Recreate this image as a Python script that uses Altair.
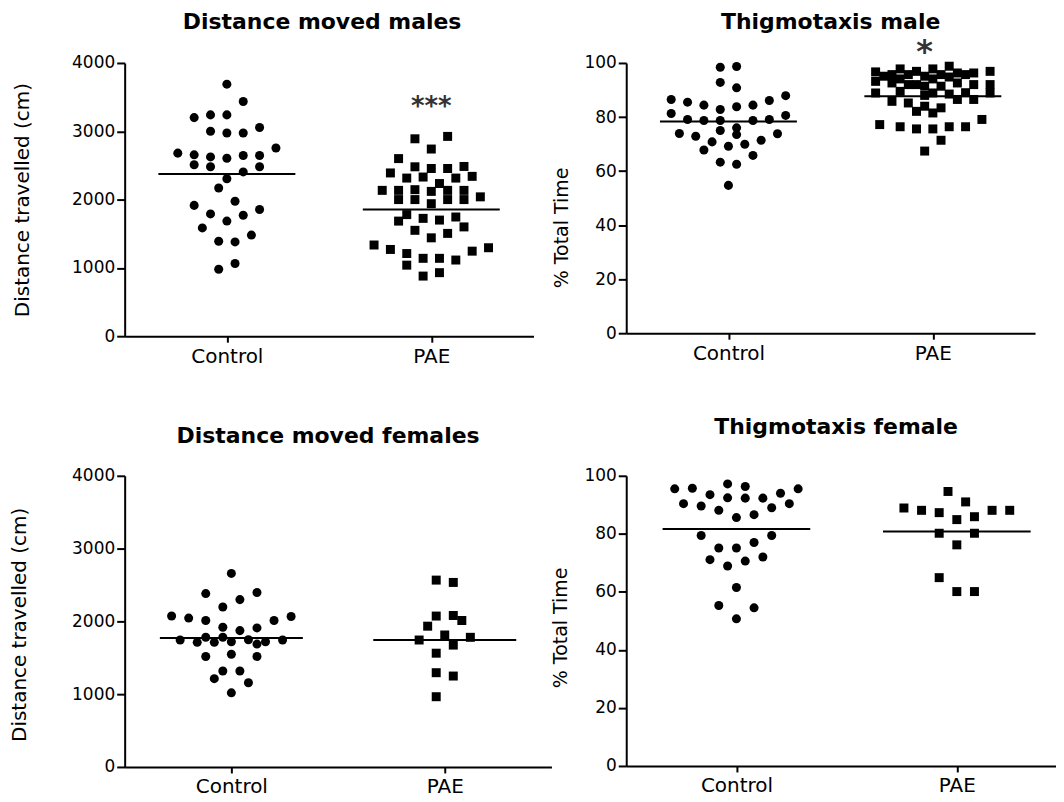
import altair as alt
import pandas as pd

FONT = "DejaVu Sans"
GROUPS = ["Control", "PAE"]

# ---------------- Distance moved males (top-left) ----------------
tl_ctrl_vals = [3690, 3435, 3200, 3240, 3240, 3000, 2975, 2975, 3055, 2680, 2655, 2510,
                2625, 2480, 2605, 2645, 2405, 2645, 2480, 2755, 2305, 2170, 1915, 1975,
                1790, 1855, 1770, 1685, 1585, 1480, 1390, 1380, 980, 1065]
tl_ctrl_slots = [0, 2, -4, -2, 0, -2, 0, 2, 4, -6, -4, -4,
                 -2, -2, 0, 2, 2, 4, 4, 6, 0, -1, -4, 1,
                 -2, 4, 2, 0, -3, 3, -1, 1, -1, 1]
tl_pae_vals = [2890, 2925, 2740, 2600, 2390, 2480, 2455, 2455, 2485, 2315, 2330, 2235,
               2315, 2340, 2135, 2135, 2000, 2145, 2000, 2120, 1940, 2135, 2000, 2135,
               2000, 2040, 1780, 1685, 1725, 1700, 1745, 1550, 1600, 1440, 1505, 1335,
               1270, 1210, 1040, 1140, 1140, 1115, 1245, 1295, 880, 930]
tl_pae_slots = [-2, 2, 0, -4, -5, -2, 0, 2, 4, -3, -1, 1,
                3, 5, -6, -4, -4, -2, -2, 0, 0, 2, 2, 4,
                4, 6, -3, -4, -1, 1, 3, -2, 4, 0, 2, -7,
                -5, -3, -3, -1, 1, 3, 5, 7, -1, 1]
tl_means = [2375, 1854]
tl_ticks = [0, 1000, 2000, 3000, 4000]
tl_marks = ["***"]
tl_mark_grp = [2]
tl_mark_slot = [0]
tl_mark_val = [3435]

# ---------------- Thigmotaxis male (top-right) ----------------
tr_ctrl_vals = [98.4, 98.7, 92.8, 90.8, 86.5, 85.5, 84.4, 82.8, 83.8, 84.4, 86.1, 87.9,
                81.3, 79.1, 78.7, 78.7, 78.7, 79.1, 80.6, 73.9, 72.9, 75.0, 76.0, 73.5,
                70.8, 67.8, 69.2, 69.9, 71.4, 73.8, 65.8, 63.3, 62.5, 54.7]
tr_ctrl_slots = [-1, 1, -1, 1, -7, -5, -3, -1, 1, 3, 5, 7,
                 -7, -5, -3, -1, 3, 5, 7, -6, -4, -1, 1, 1,
                 -2, -3, 0, 2, 4, 6, 3, -1, 1, 0]
tr_pae_vals = [96.7, 93.2, 95.1, 95.7, 92.6, 97.8, 94.1, 95.7, 92.0, 96.9, 92.0, 95.1,
               91.4, 97.8, 94.1, 95.7, 91.4, 98.8, 94.8, 96.3, 92.6, 95.7, 96.3, 92.0,
               96.9, 92.0, 88.9, 88.9, 88.9, 86.5, 89.5, 88.0, 88.5, 89.0, 85.8, 85.2,
               82.1, 84.0, 81.5, 83.4, 86.5, 77.2, 76.4, 75.6, 75.6, 76.4, 76.4, 79.1,
               71.4, 67.4]
tr_pae_slots = [-7, -7, -6, -5, -5, -4, -4, -3, -3, -2, -2, -1,
                -1, 0, 0, 1, 1, 2, 2, 3, 3, 4, 5, 5,
                7, 7, -7, 0, 7, 3, -4, -1, 2, 4, -5, -3,
                -2, -1, 0, 1, 5, -6.5, -4, -2, 0, 2, 4, 6,
                1, -1]
tr_means = [78.3, 87.7]
tr_ticks = [0, 20, 40, 60, 80, 100]
tr_marks = ["*"]
tr_mark_grp = [2]
tr_mark_slot = [-1]
tr_mark_val = [106]

# ---------------- Distance moved females (bottom-left) ----------------
bl_ctrl_vals = [2659, 2382, 2299, 2396, 2198, 2073, 2045, 2012, 2012, 2067, 1920, 1873,
                1910, 1744, 1712, 1781, 1712, 1781, 1720, 1748, 1688, 1720, 1744, 1518,
                1549, 1518, 1213, 1318, 1318, 1157, 1018]
bl_ctrl_slots = [0, -3, 1, 3, -1, -7, -5, -3, 5, 7, -1, 1,
                 3, -6, -4, -3, -2, -1, 0, 2, 3, 4, 6, -3,
                 0, 3, -2, -1, 1, 2, 0]
bl_pae_vals = [2567, 2535, 2073, 2081, 1934, 2012, 1744, 1813, 1674, 1781, 1563, 1295,
               1249, 965]
bl_pae_slots = [-1, 1, -1, 1, -2, 2, -3, 0, 1, 3, -1, -1,
                1, -1]
bl_means = [1772, 1744]
bl_ticks = [0, 1000, 2000, 3000, 4000]

# ---------------- Thigmotaxis female (bottom-right) ----------------
br_ctrl_vals = [95.5, 95.7, 93.5, 97.2, 96.3, 94.0, 95.5, 90.4, 89.6, 92.4, 92.3, 92.3,
                90.4, 88.1, 89.0, 85.6, 86.6, 79.4, 79.4, 75.1, 75.1, 77.0, 71.1, 68.9,
                70.6, 72.0, 61.5, 55.3, 54.5, 50.7]
br_ctrl_slots = [-7, -5, -3, -1, 1, 5, 7, -6, -4, -1, 1, 3,
                 6, -2, 4, 0, 2, -4, 4, -2, 0, 2, -3, -1,
                 1, 3, 0, -2, 2, 0]
br_pae_vals = [94.6, 91.0, 88.9, 88.1, 87.3, 84.9, 85.9, 88.1, 88.1, 80.2, 80.2, 76.2,
               64.9, 60.1, 60.1]
br_pae_slots = [-1, 1, -6, -4, -2, 0, 2, 4, 6, -2, 2, 0,
                -2, 0, 2]
br_means = [81.7, 80.8]
br_ticks = [0, 20, 40, 60, 80, 100]

SLOT = 0.04
HALF = 0.335


def panel(title, ctrl_vals, ctrl_slots, pae_vals, pae_slots, means, ymax, yticks,
          ytitle, width, height, xmax, title_x, title_y, ytitle_size, title_dx,
          title_offset, marks=None):
    pts = pd.DataFrame({
        "grp": [1] * len(ctrl_vals) + [2] * len(pae_vals),
        "value": ctrl_vals + pae_vals,
        "slot": ctrl_slots + pae_slots,
    })
    xscale = alt.Scale(domain=[0.5, xmax], nice=False, zero=False)
    yscale = alt.Scale(domain=[0, ymax], nice=False, zero=True)
    xaxis = alt.Axis(values=[1, 2], labelExpr="datum.value == 1 ? 'Control' : 'PAE'",
                     title=None, grid=False, tickSize=6, labelFontSize=20,
                     labelPadding=4, labelFont=FONT)
    yaxis = alt.Axis(values=yticks, title=ytitle, grid=False, tickSize=8,
                     labelFontSize=17, labelPadding=2, titleX=title_x, titleY=title_y,
                     titleBaseline="middle", titleAngle=270, titleAlign="center",
                     titleFontSize=ytitle_size, titleFontWeight="normal", format="d")
    X = alt.X("x:Q", scale=xscale, axis=xaxis)
    Y = alt.Y("value:Q", scale=yscale, axis=yaxis)
    base = alt.Chart(pts).transform_calculate(x=f"datum.grp + datum.slot * {SLOT}")
    circles = base.transform_filter("datum.grp == 1").mark_point(
        shape="circle", filled=True, size=82, color="black", opacity=1).encode(x=X, y=Y)
    squares = base.transform_filter("datum.grp == 2").mark_point(
        shape="square", filled=True, size=81, color="black", opacity=1).encode(x=X, y=Y)
    mean_df = pd.DataFrame({"grp": [1, 2], "value": means})
    rules = alt.Chart(mean_df).transform_calculate(
        x=f"datum.grp - {HALF}", x2=f"datum.grp + {HALF}").mark_rule(
        color="black", strokeWidth=2).encode(x=X, x2="x2:Q", y=Y)
    layers = [circles, squares, rules]
    if marks is not None:
        labels, mgrp, mslot, mval, msize = marks
        mdf = pd.DataFrame({"grp": mgrp, "slot": mslot, "value": mval, "label": labels})
        txt = alt.Chart(mdf).transform_calculate(
            x=f"datum.grp + datum.slot * {SLOT}").mark_text(
            font=FONT, fontSize=msize, fontWeight="bold", color="#333333",
            baseline="middle", align="center", dy=5).encode(x=X, y=Y, text="label:N")
        layers.append(txt)
    return alt.layer(*layers).properties(
        width=width, height=height,
        title=alt.TitleParams(title, frame="group", anchor="middle", dx=title_dx,
                              offset=title_offset))


tl = panel("Distance moved males", tl_ctrl_vals, tl_ctrl_slots, tl_pae_vals, tl_pae_slots,
           tl_means, 4000, tl_ticks, "Distance travelled (cm)", 410, 274, 2.5,
           -102, 137, 20, -7, 20,
           marks=(tl_marks, tl_mark_grp, tl_mark_slot, tl_mark_val, 26))
tr = panel("Thigmotaxis male", tr_ctrl_vals, tr_ctrl_slots, tr_pae_vals, tr_pae_slots,
           tr_means, 100, tr_ticks, "% Total Time", 410, 271, 2.5,
           -65, 165, 19, 0, 2,
           marks=(tr_marks, tr_mark_grp, tr_mark_slot, tr_mark_val, 32))
bl = panel("Distance moved females", bl_ctrl_vals, bl_ctrl_slots, bl_pae_vals, bl_pae_slots,
           bl_means, 4000, bl_ticks, "Distance travelled (cm)", 428, 292, 2.5,
           -105, 149, 20, -10, 19)
br = panel("Thigmotaxis female", br_ctrl_vals, br_ctrl_slots, br_pae_vals, br_pae_slots,
           br_means, 100, br_ticks, "% Total Time", 431, 291, 2.45,
           -66, 152, 19, -5, 28)

chart = alt.concat(tl, tr, bl, br, columns=2, spacing={"row": 140, "column": 75},
                   bounds="flush").properties(
    padding={"left": 2, "top": 1, "right": 0, "bottom": 0}
).configure_view(stroke=None).configure_axis(
    domainColor="black", tickColor="black", labelColor="black", titleColor="black",
    labelFont=FONT, titleFont=FONT, domainWidth=2, tickWidth=2
).configure_title(font=FONT, fontSize=22, fontWeight="bold", color="black")

chart.save("out.html", embed_options={"renderer": "svg", "actions": False})
